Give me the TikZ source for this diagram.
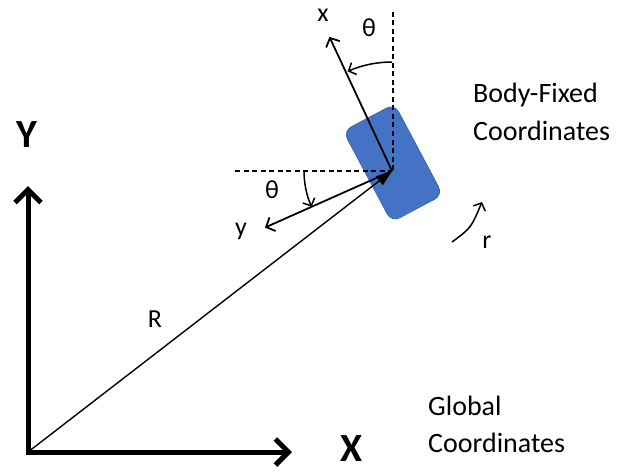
\documentclass[tikz,border=0pt]{standalone}
\usepackage{fontspec}
\setmainfont{Carlito}
\usetikzlibrary{arrows.meta}
\definecolor{bodyblue}{RGB}{68,114,196}
\definecolor{bodyedge}{RGB}{60,102,180}
\begin{document}
\begin{tikzpicture}[x=1pt,y=1pt,
  lbl/.style={font=\fontsize{26}{30}\selectfont, inner sep=0pt},
  axlbl/.style={font=\fontsize{40}{46}\selectfont\bfseries, inner sep=0pt, anchor=base, text depth=0pt},
  note/.style={font=\fontsize{28}{32}\selectfont, inner sep=0pt, anchor=base west},
  axisline/.style={line width=5pt, line join=miter,
    {Straight Barb[length=13pt,width=26pt,line width=5pt]}-{Straight Barb[length=13pt,width=26pt,line width=5pt]}},
  bodyaxis/.style={line width=1.8pt, -{Straight Barb[length=7pt,width=15pt,line width=1.8pt]}},
  anglearc/.style={line width=1.5pt, -{Straight Barb[length=6pt,width=13pt,line width=1.5pt]}},
  refline/.style={line width=1.2pt, dash pattern=on 5pt off 3.5pt},
  posline/.style={line width=1.4pt, -{Triangle[length=16pt,width=11pt]}},
  bodybox/.style={draw=bodyedge, line width=0.8pt, fill=bodyblue, rounded corners=9pt,
    minimum width=58pt, minimum height=103pt, inner sep=0pt, rotate=28}
]
\useasboundingbox (0,0) rectangle (617,472);

% global axes
\coordinate (O) at (28,20);
\coordinate (Yt) at (28,286);
\coordinate (Xt) at (292,20);
\draw[axisline] (Yt) -- (O) -- (Xt);
\node[axlbl] (Ylab) at (27,325) {Y};
\node[axlbl] (Xlab) at (352,11) {X};

% body
\node[bodybox] (body) at (393,309) {};
\coordinate (P) at (392,301);

% reference dashed lines
\coordinate (vtop) at (393,460);
\coordinate (hleft) at (235,301);
\draw[refline] (vtop) -- (393,301);
\draw[refline] (hleft) -- (P);

% position vector
\draw[posline] (O) -- (P);
\node[lbl] (Rlab) at (155,153) {R};

% body-fixed axes
\coordinate (xt) at ([shift={(115:148)}]P);
\coordinate (yt) at ([shift={(204:139)}]P);
\draw[bodyaxis] (P) -- (xt);
\draw[bodyaxis] (P) -- (yt);
\node[lbl] (xlab) at (323,457) {x};
\node[lbl] (ylab) at (241,241) {y};

% angle arcs
\draw[anglearc] ([shift={(90:109)}]P) arc[start angle=90, end angle=114, radius=109];
\draw[anglearc] ([shift={(180:88)}]P) arc[start angle=180, end angle=204, radius=88];
\node[lbl] (th1) at (369,444) {θ};
\node[lbl] (th2) at (272,282) {θ};

% yaw rate
\coordinate (rs) at (452,230);
\coordinate (re) at (482,270);
\draw[anglearc] (rs) .. controls (471,244) .. (re);
\node[lbl] (rlab) at (487,230) {r};

% notes
\node[note] (bf1) at (473,369) {Body-Fixed};
\node[note] (bf2) at (473,332) {Coordinates};
\node[note] (gl1) at (428,57) {Global};
\node[note] (gl2) at (428,20) {Coordinates};
\end{tikzpicture}
\end{document}
